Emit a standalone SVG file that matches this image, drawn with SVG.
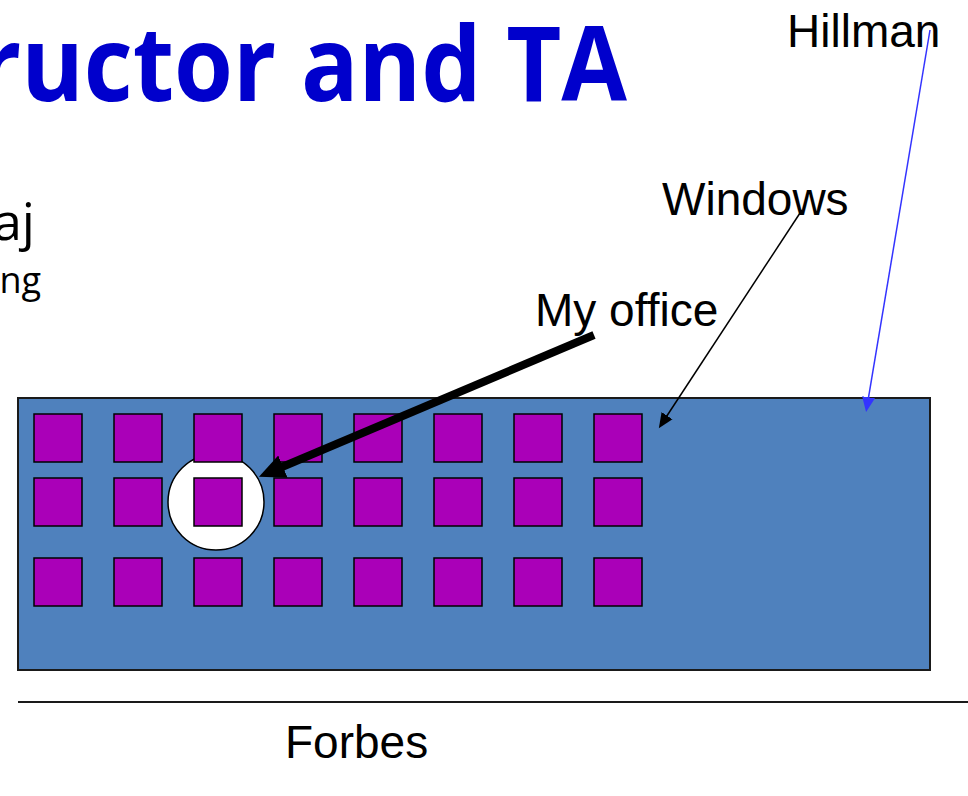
<svg xmlns="http://www.w3.org/2000/svg" width="968" height="796" viewBox="0 0 968 796">
  <style>
    .title { font-family: "Open Sans", "Noto Sans", sans-serif; font-weight: bold; fill: #0000cc; }
    .body { font-family: "Open Sans", "Noto Sans", sans-serif; fill: #000000; }
    .lbl { font-family: "Liberation Sans", Arial, sans-serif; font-size: 46px; fill: #000000; }
    .office { fill: #aa00b8; stroke: #000000; stroke-width: 1.5; }
    .bldg { fill: #4f81bd; stroke: #1a1a1a; stroke-width: 2; }
  </style>
  <defs>
    <marker id="headThick" markerUnits="userSpaceOnUse" markerWidth="27" markerHeight="26" viewBox="0 -13 27 26" refX="1" refY="0" orient="auto">
      <path d="M0,-12 L26,0 L0,12 z" fill="#000000"/>
    </marker>
    <marker id="headThin" markerUnits="userSpaceOnUse" markerWidth="16" markerHeight="14" viewBox="0 -7 16 14" refX="1" refY="0" orient="auto">
      <path d="M0,-6.5 L15,0 L0,6.5 z" fill="#000000"/>
    </marker>
    <marker id="headBlue" markerUnits="userSpaceOnUse" markerWidth="16" markerHeight="14" viewBox="0 -7 16 14" refX="1" refY="0" orient="auto">
      <path d="M0,-6.5 L15,0 L0,6.5 z" fill="#3333ff"/>
    </marker>
  </defs>

  <rect x="0" y="0" width="968" height="796" fill="#ffffff"/>

  <g id="title">
    <text class="title" x="-22" y="101" font-size="104" textLength="649" lengthAdjust="spacingAndGlyphs">ructor and TA</text>
  </g>
  <g id="body-text">
    <text class="body" x="35" y="240" font-size="52" text-anchor="end">aj</text>
    <text class="body" x="41" y="293" font-size="36" text-anchor="end">ng</text>
  </g>

  <g id="building">
    <rect class="bldg" x="18" y="398" width="912" height="272"/>
  </g>

  <g id="highlight">
    <circle cx="216" cy="502" r="48" fill="#ffffff" stroke="#000000" stroke-width="1.5"/>
  </g>

  <g id="offices">
    <rect class="office" x="34" y="414" width="48" height="48"/>
    <rect class="office" x="114" y="414" width="48" height="48"/>
    <rect class="office" x="194" y="414" width="48" height="48"/>
    <rect class="office" x="274" y="414" width="48" height="48"/>
    <rect class="office" x="354" y="414" width="48" height="48"/>
    <rect class="office" x="434" y="414" width="48" height="48"/>
    <rect class="office" x="514" y="414" width="48" height="48"/>
    <rect class="office" x="594" y="414" width="48" height="48"/>

    <rect class="office" x="34" y="478" width="48" height="48"/>
    <rect class="office" x="114" y="478" width="48" height="48"/>
    <rect class="office" x="194" y="478" width="48" height="48"/>
    <rect class="office" x="274" y="478" width="48" height="48"/>
    <rect class="office" x="354" y="478" width="48" height="48"/>
    <rect class="office" x="434" y="478" width="48" height="48"/>
    <rect class="office" x="514" y="478" width="48" height="48"/>
    <rect class="office" x="594" y="478" width="48" height="48"/>

    <rect class="office" x="34" y="558" width="48" height="48"/>
    <rect class="office" x="114" y="558" width="48" height="48"/>
    <rect class="office" x="194" y="558" width="48" height="48"/>
    <rect class="office" x="274" y="558" width="48" height="48"/>
    <rect class="office" x="354" y="558" width="48" height="48"/>
    <rect class="office" x="434" y="558" width="48" height="48"/>
    <rect class="office" x="514" y="558" width="48" height="48"/>
    <rect class="office" x="594" y="558" width="48" height="48"/>
  </g>

  <g id="forbes">
    <line x1="18" y1="702" x2="968" y2="702" stroke="#1a1a1a" stroke-width="2"/>
    <text class="lbl" x="285" y="758">Forbes</text>
  </g>

  <g id="labels">
    <text class="lbl" x="787" y="47">Hillman</text>
    <text class="lbl" x="662" y="215">Windows</text>
    <text class="lbl" x="535" y="326">My office</text>
  </g>

  <g id="connectors">
    <line x1="594" y1="335" x2="282" y2="467" stroke="#000000" stroke-width="8" marker-end="url(#headThick)"/>
    <line x1="802" y1="210" x2="666.5" y2="416.5" stroke="#000000" stroke-width="1.5" marker-end="url(#headThin)"/>
    <line x1="930" y1="30" x2="868.4" y2="398.2" stroke="#3333ff" stroke-width="1.5" marker-end="url(#headBlue)"/>
  </g>
</svg>
